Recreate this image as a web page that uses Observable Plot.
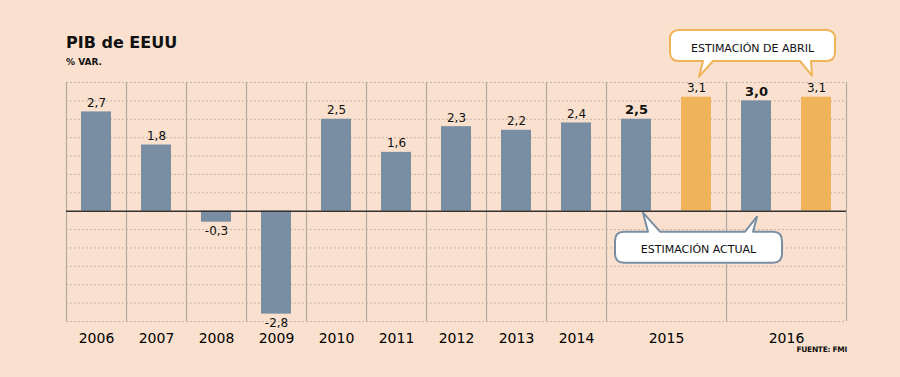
<!DOCTYPE html>
<html><head><meta charset="utf-8">
<script src="https://cdn.jsdelivr.net/npm/d3@7"></script>
<script src="https://cdn.jsdelivr.net/npm/@observablehq/plot@0.6"></script>
<style>
html,body{margin:0;padding:0;background:#fae0ce;}
#chart{width:900px;height:377px;position:relative;overflow:hidden;}
</style></head><body><div id="chart"></div>
<script>
// ---- data ----
const columns = ["2006","2007","2008","2009","2010","2011","2012","2013","2014","2015 actual","2015 abril","2016 actual","2016 abril"];
const yearOf  = ["2006","2007","2008","2009","2010","2011","2012","2013","2014","2015","2015","2016","2016"];
const values  = [2.7, 1.8, -0.3, -2.8, 2.5, 1.6, 2.3, 2.2, 2.4, 2.5, 3.1, 3.0, 3.1];
const kinds   = ["dato","dato","dato","dato","dato","dato","dato","dato","dato","actual","abril","actual","abril"];
const yearLabels = ["2006","2007","2008","2009","2010","2011","2012","2013","2014","2015","2016"];
const gridValues = [-3,-2.5,-2,-1.5,-1,-0.5,0.5,1,1.5,2,2.5,3,3.5];
const titleText = "PIB de EEUU";
const subtitleText = "% VAR.";
const sourceText = "FUENTE: FMI";
const calloutAbrilText = "ESTIMACIÓN DE ABRIL";
const calloutActualText = "ESTIMACIÓN ACTUAL";

// ---- derived tables ----
const rows = columns.map((c, i) => ({i, col: c, year: yearOf[i], value: values[i], kind: kinds[i]}));
const yearGroups = yearLabels.map(y => ({year: y, center: d3.mean(rows.filter(r => r.year === y), r => r.i + 0.5)}));
const boundaries = rows.filter((r, k) => k === 0 || r.year !== rows[k - 1].year).map(r => r.i).concat([columns.length]);
const fmt = v => v.toFixed(1).replace(".", ",");

const GRAY = "#7a8ea3", ORANGE = "#efb35a";
const FONT = "'DejaVu Sans', Verdana, sans-serif";

function labels(filter, opts) {
  return Plot.text(rows.filter(filter), {
    x: d => d.i + 0.5, y: "value", text: d => fmt(d.value), fontSize: 12, fill: "#111", ...opts
  });
}

const chart = Plot.plot({
  width: 900, height: 377,
  marginTop: 82, marginBottom: 56, marginLeft: 66, marginRight: 54,
  style: {background: "transparent", fontFamily: FONT, fontSize: "12px", color: "#111"},
  x: {type: "linear", domain: [0, columns.length], axis: null},
  y: {domain: [-3, 3.5], axis: null},
  color: {domain: ["dato", "actual", "abril"], range: [GRAY, GRAY, ORANGE]},
  marks: [
    Plot.ruleY(gridValues, {stroke: "#bfb0a6", strokeDasharray: "2,2", strokeWidth: 0.9}),
    Plot.ruleX(boundaries, {stroke: "#b5aaa3", strokeWidth: 1.2}),
    Plot.rect(rows, {x1: d => d.i + 0.25, x2: d => d.i + 0.75, y1: 0, y2: "value", fill: "kind"}),
    Plot.ruleY([0], {stroke: "#333", strokeWidth: 1.5}),
    labels(d => d.value >= 0 && d.kind !== "actual", {lineAnchor: "bottom", dy: -5}),
    labels(d => d.value >= 0 && d.kind === "actual", {lineAnchor: "bottom", dy: -5, fontWeight: "bold", fontSize: 13}),
    labels(d => d.value < 0, {lineAnchor: "top", dy: 4}),
    Plot.text(yearGroups, {x: "center", frameAnchor: "bottom", lineAnchor: "bottom", dy: 21, text: "year", fontSize: 14, fill: "#000"})
  ]
});
document.getElementById("chart").appendChild(chart);

// ---- annotations ----
const sx = v => chart.scale("x").apply(v);
const sy = v => chart.scale("y").apply(v);
const svg = d3.select(chart);

svg.append("text").attr("x", 66).attr("y", 48).attr("text-anchor", "start").attr("font-family", FONT).attr("font-weight", "bold")
  .attr("font-size", 16).attr("fill", "#111").text(titleText);
svg.append("text").attr("x", 66).attr("y", 65).attr("text-anchor", "start").attr("font-family", FONT).attr("font-weight", "bold")
  .attr("font-size", 9).attr("fill", "#111").text(subtitleText);
svg.append("text").attr("x", 847).attr("y", 352).attr("text-anchor", "end").attr("font-family", FONT)
  .attr("font-weight", "bold").attr("font-size", 7.5).attr("letter-spacing", -0.3).attr("fill", "#111").text(sourceText);

function calloutPath({L, T, R, B, r, side, ptrs}) {
  let p = `M${L + r},${T}`;
  if (side === "top") {
    for (const q of ptrs) p += ` L${q.b1},${T} L${q.tx},${q.ty} L${q.b2},${T}`;
  }
  p += ` L${R - r},${T} Q${R},${T} ${R},${T + r} L${R},${B - r} Q${R},${B} ${R - r},${B}`;
  if (side === "bottom") {
    for (const q of ptrs.slice().reverse()) p += ` L${q.b2},${B} L${q.tx},${q.ty} L${q.b1},${B}`;
  }
  p += ` L${L + r},${B} Q${L},${B} ${L},${B - r} L${L},${T + r} Q${L},${T} ${L + r},${T} Z`;
  return p;
}

// April estimate callout (points to orange bars)
{
  const a = sx(10.5), b = sx(12.5), top = sy(3.1);
  const box = {L: a - 26, R: b + 19, T: 30, B: 61, r: 9, side: "bottom",
    ptrs: [{b1: a + 7, b2: a + 17, tx: a + 3, ty: top - 20}, {b1: b - 16, b2: b - 5, tx: b - 4, ty: top - 21}]};
  svg.append("path").attr("d", calloutPath(box)).attr("fill", "#fff").attr("stroke", ORANGE).attr("stroke-width", 2).attr("stroke-linejoin", "round");
  svg.append("text").attr("x", (box.L + box.R) / 2).attr("y", 52).attr("text-anchor", "middle")
    .attr("font-family", FONT).attr("font-size", 11).attr("fill", "#111").text(calloutAbrilText);
}
// Current estimate callout (points to gray 2015/2016 bars)
{
  const a = sx(9.5), b = sx(11.5), z = sy(0);
  const box = {L: a - 21, R: b + 26, T: z + 21, B: z + 52, r: 9, side: "top",
    ptrs: [{b1: a + 12, b2: a + 24, tx: a + 7, ty: z + 2}, {b1: b - 11, b2: b - 3, tx: b + 1, ty: z + 6}]};
  svg.append("path").attr("d", calloutPath(box)).attr("fill", "#fff").attr("stroke", GRAY).attr("stroke-width", 2).attr("stroke-linejoin", "round");
  svg.append("text").attr("x", (box.L + box.R) / 2).attr("y", z + 42).attr("text-anchor", "middle")
    .attr("font-family", FONT).attr("font-size", 11).attr("fill", "#111").text(calloutActualText);
}
</script></body></html>
